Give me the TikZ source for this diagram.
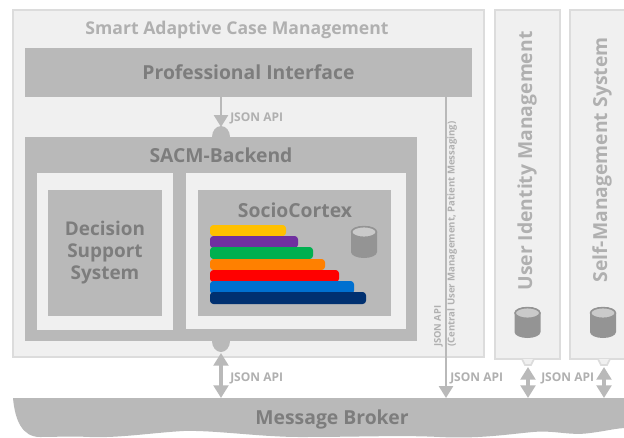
\documentclass[tikz,border=0pt]{standalone}
\usepackage{fontspec}
\setmainfont{Open Sans}
\usetikzlibrary{arrows.meta,calc}
\definecolor{paneface}{HTML}{F0F0F0}
\definecolor{paneedge}{HTML}{DCDCDC}
\definecolor{block}{HTML}{B9B9B9}
\definecolor{darktext}{HTML}{7D7D7D}
\definecolor{lighttext}{HTML}{B0B0B0}
\definecolor{cyl}{HTML}{949494}
\definecolor{cyltop}{HTML}{CACACA}
\newcommand{\pxbox}[7]{% name, x0,y0,x1,y1, style, text
  \pgfmathsetmacro{\pxw}{(#4-#2)*0.75}\pgfmathsetmacro{\pxh}{(#5-#3)*0.75}
  \node[#6,minimum width=\pxw pt,minimum height=\pxh pt] (#1) at ({(#2+#4)/2},{(#3+#5)/2}) {#7};}
\newcommand{\drum}[3]{% cx, top y, bottom y
  \fill[cyl] (#1-13,#2+6) -- (#1-13,#3-6) arc[x radius=13,y radius=6,start angle=180,end angle=0] -- (#1+13,#2+6) arc[x radius=13,y radius=6,start angle=0,end angle=-180] -- cycle;
  \draw[cyl,fill=cyltop,line width=1.2pt] (#1,#2+6) ellipse[x radius=12.4,y radius=5.4];}
\tikzset{
  x=0.75pt,y=-0.75pt,
  pane/.style={draw=paneedge,fill=paneface,line width=1.5pt,inner sep=0pt,outer sep=0pt},
  slab/.style={fill=block,inner sep=0pt,outer sep=0pt},
  bar/.style={rounded corners=2.5pt,inner sep=0pt,outer sep=0pt},
  head/.style={font=\bfseries\fontsize{14.5}{16}\selectfont,text=darktext},
  paleHead/.style={font=\bfseries\fontsize{13.2}{16}\selectfont,text=lighttext},
  sideHead/.style={font=\bfseries\fontsize{14.5}{16}\selectfont,text=lighttext},
  tag/.style={font=\bfseries\fontsize{9}{11}\selectfont,text=lighttext,inner sep=0pt},
  link/.style={draw=block,line width=2pt,-{Triangle[width=10.5pt,length=9pt]}},
  biglink/.style={draw=block,line width=2.6pt,{Triangle[width=11pt,length=9.5pt]}-{Triangle[width=11pt,length=9.5pt]}},
}
\begin{document}
\begin{tikzpicture}
\useasboundingbox (0,0) rectangle (624,437);
\fill[white] (0,0) rectangle (624,437);
\pxbox{sacm}{13}{10}{484}{357}{pane}{}
\pxbox{uim}{495}{10}{560}{359}{pane}{}
\pxbox{sms}{570}{10}{640}{359}{pane}{}
\draw[paneedge,fill=paneface,line width=1.2pt] (522,359) -- (525,365) -- (531,365) -- (534,359);
\draw[paneedge,fill=paneface,line width=1.2pt] (598,359) -- (601,365) -- (607,365) -- (610,359);
\node[paleHead,inner sep=0pt] (sacmtitle) at (237,29.5) {Smart Adaptive Case Management};
\pxbox{prof}{25}{48}{472}{97}{slab,head}{\raisebox{-1.5pt}{Professional Interface}}
\pxbox{backend}{25}{137}{417}{341}{slab}{}
\node[head,inner sep=0pt] (backendtitle) at (221,155.5) {SACM-Backend};
\pxbox{dssframe}{37}{173}{173}{330}{fill=paneface,inner sep=0pt}{}
\pxbox{dss}{48}{190}{162}{316}{slab,head,align=center,font=\bfseries\fontsize{14.2}{16.5}\selectfont}{Decision\\Support\\System}
\pxbox{scframe}{186}{173}{406}{329}{fill=paneface,inner sep=0pt}{}
\pxbox{sc}{198}{190}{391}{316}{slab}{}
\node[head,inner sep=0pt] (sctitle) at (295,210) {SocioCortex};
\definecolor{b1}{HTML}{FFC000}\definecolor{b2}{HTML}{7030A0}\definecolor{b3}{HTML}{00B050}
\definecolor{b4}{HTML}{FF8000}\definecolor{b5}{HTML}{FF0000}\definecolor{b6}{HTML}{0070D0}\definecolor{b7}{HTML}{003070}
\pxbox{bara}{210}{225}{286}{236}{bar,fill=b1}{}
\pxbox{barb}{210}{236}{298}{248}{bar,fill=b2}{}
\pxbox{barc}{210}{247}{313}{259}{bar,fill=b3}{}
\pxbox{bard}{210}{259}{325}{270}{bar,fill=b4}{}
\pxbox{bare}{210}{270}{339}{282}{bar,fill=b5}{}
\pxbox{barf}{210}{281}{354}{294}{bar,fill=b6}{}
\pxbox{barg}{210}{292}{366}{304}{bar,fill=b7}{}
\drum{364}{226}{258}
\drum{527.5}{307}{338}
\drum{603}{307}{338}
\node[sideHead,rotate=90,inner sep=0pt] (uimtitle) at (527,161) {User Identity Management};
\node[sideHead,rotate=90,inner sep=0pt] (smstitle) at (602,160) {Self-Management System};
% broker
\fill[block] (13,398) -- (624,398) -- (624,428)
  .. controls (612,429) and (606,431) .. (590,433)
  .. controls (570,436) and (555,430) .. (533,432)
  .. controls (510,434) and (480,439) .. (440,437)
  .. controls (400,435) and (360,437) .. (300,437)
  .. controls (260,437) and (215,430) .. (183,431)
  .. controls (150,433) and (120,438) .. (90,437)
  .. controls (70,436) and (55,437) .. (40,437)
  .. controls (22,437) and (15,420) .. (13,398) -- cycle;
\coordinate (broker) at (332,398);
\node[head,inner sep=0pt] (brokertitle) at (332,419.5) {Message Broker};
% knobs
\fill[block] (212,137) arc[x radius=9,y radius=11,start angle=180,end angle=360] -- cycle;
\fill[block] (212,341) arc[x radius=9,y radius=11,start angle=180,end angle=0] -- cycle;
% connectors
\coordinate (a1) at (221,97); \coordinate (a2) at (221,127);
\draw[link] (a1) -- (a2);
\coordinate (b1) at (221,353); \coordinate (b2) at (221,398);
\draw[biglink] (b1) -- (b2);
\coordinate (c1) at (446,97); \coordinate (c2) at (446,398);
\draw[link] (c1) -- (c2);
\coordinate (d1) at (528,367); \coordinate (d2) at (528,398);
\draw[biglink] (d1) -- (d2);
\coordinate (e1) at (604,367); \coordinate (e2) at (604,398);
\draw[biglink] (e1) -- (e2);
\node[tag,anchor=west] (t1) at (230,118.5) {JSON API};
\node[tag,anchor=west] (t2) at (230,378.5) {JSON API};
\node[tag,anchor=west] (t3) at (450,378.5) {JSON API};
\node[tag,anchor=west] (t4) at (541,378.5) {JSON API};
\node[rotate=90,anchor=west,align=left,inner sep=0pt,text=lighttext,font=\bfseries\fontsize{7.2}{10.2}\selectfont] (t5) at (445.5,347) {{\fontsize{7}{10.2}\selectfont JSON API}\\(Central User Management, Patient Messaging)};
\end{tikzpicture}
\end{document}
